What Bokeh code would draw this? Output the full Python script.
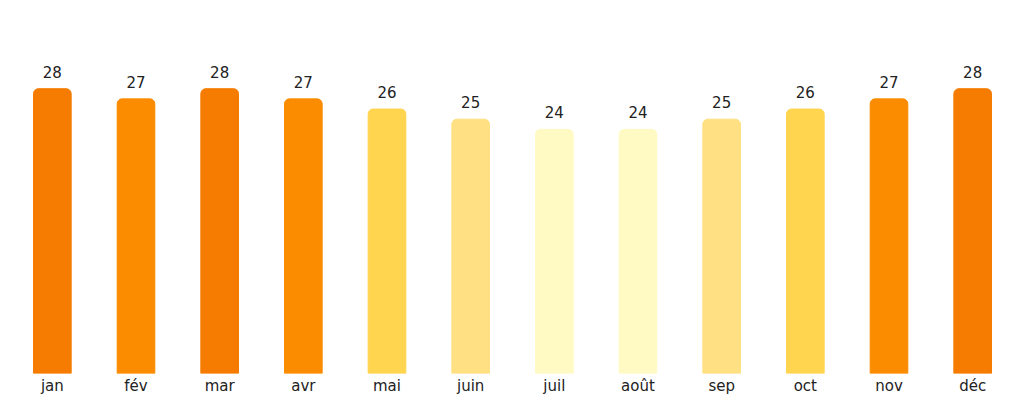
from bokeh.plotting import figure
from bokeh.models import ColumnDataSource, Range1d
from bokeh.core.properties import value
from bokeh.embed import file_html
from bokeh.resources import INLINE

months = ["jan", "fév", "mar", "avr", "mai", "juin", "juil", "août", "sep", "oct", "nov", "déc"]
temps = [28, 27, 28, 27, 26, 25, 24, 24, 25, 26, 27, 28]
palette = {28: "#f57c00", 27: "#fb8c00", 26: "#ffd54f", 25: "#ffe082", 24: "#fff9c4"}
colors = [palette[t] for t in temps]
labels = [str(t) for t in temps]

src = ColumnDataSource(dict(m=months, t=temps, c=colors, lab=labels))

p = figure(x_range=months, y_range=Range1d(0, 35), frame_width=1004, frame_height=356,
           output_backend="svg", toolbar_location=None,
           min_border_left=10, min_border_right=2, min_border_top=17, min_border_bottom=0)
p.vbar(x="m", top="t", width=0.45, color="c", source=src, border_radius=(5, 5, 0, 0))
p.text(x="m", y="t", text="lab", source=src, text_align="center", text_baseline="bottom",
       y_offset=-11, text_font=value("DejaVu Sans"), text_font_size="15px", text_color="#222222")

p.outline_line_color = None
p.grid.visible = False
p.yaxis.visible = False
ax = p.xaxis[0]
ax.axis_line_color = None
ax.major_tick_line_color = None
ax.minor_tick_line_color = None
ax.major_tick_out = 0
ax.major_tick_in = 0
ax.major_label_standoff = 3
ax.major_label_text_font = "DejaVu Sans"
ax.major_label_text_font_size = "15px"
ax.major_label_text_color = "#222222"

open("out.html", "w").write(file_html(p, INLINE))
